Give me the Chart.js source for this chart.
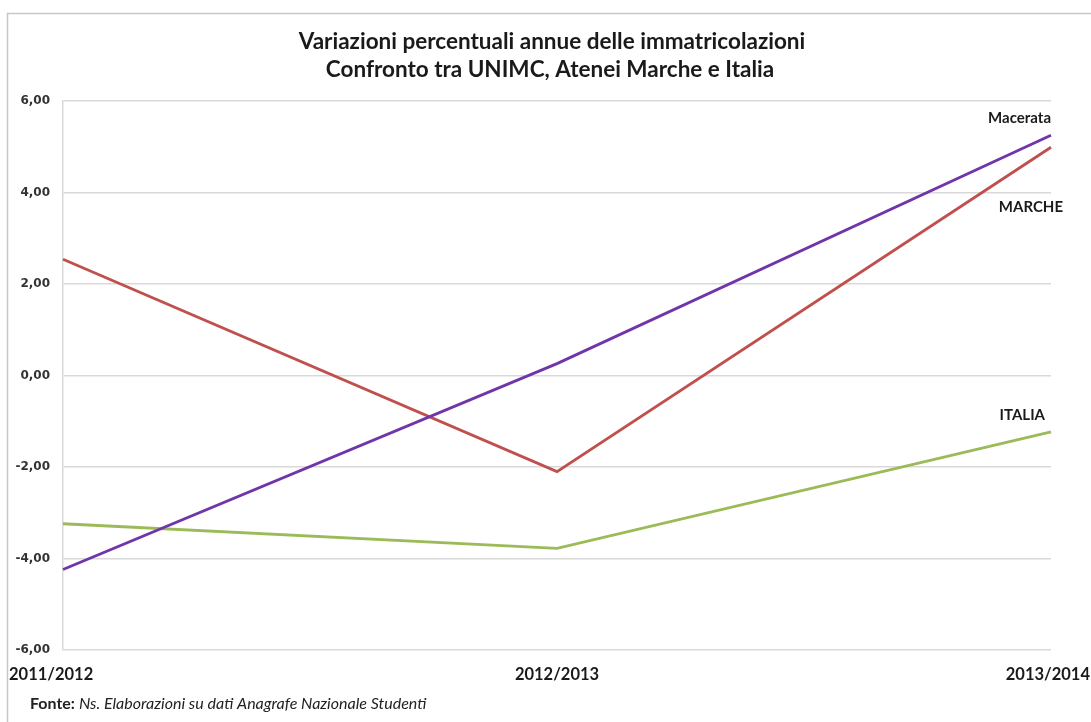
<!DOCTYPE html>
<html>
<head>
<meta charset="utf-8">
<script src="https://cdn.jsdelivr.net/npm/chart.js@4.4.1/dist/chart.umd.min.js"></script>
<style>
  html, body { margin: 0; padding: 0; background: #fff; }
  #wrap { width: 1091px; height: 722px; position: relative; }
</style>
</head>
<body>
<div id="wrap"><canvas id="chart" width="1091" height="722"></canvas></div>
<script>
// Dati
const anni = ['2011/2012', '2012/2013', '2013/2014'];
const macerata = [-4.24, 0.26, 5.25];
const marche = [2.54, -2.10, 4.99];
const italia = [-3.24, -3.78, -1.23];
const titolo = ['Variazioni percentuali annue delle immatricolazioni', 'Confronto tra UNIMC, Atenei Marche e Italia'];

const FONT = 'Lato, "Open Sans", sans-serif';

// Testi disegnati a mano: titolo, etichette asse x, etichette serie, fonte
const testiPlugin = {
  id: 'testi',
  beforeDraw(chart) {
    const ctx = chart.ctx;
    ctx.save();
    ctx.strokeStyle = '#c8c8c8';
    ctx.lineWidth = 1.5;
    ctx.beginPath();
    ctx.moveTo(7.5, 730);
    ctx.lineTo(7.5, 13.5);
    ctx.lineTo(1100, 13.5);
    ctx.stroke();
    ctx.restore();
  },
  afterDraw(chart) {
    const ctx = chart.ctx;
    const x = chart.scales.x;
    const y = chart.scales.y;
    ctx.save();
    ctx.fillStyle = '#1a1a1a';
    ctx.textBaseline = 'middle';

    // titolo
    ctx.font = 'bold 22.5px ' + FONT;
    ctx.textAlign = 'center';
    ctx.fillText(titolo[0], 552, 42);
    ctx.fillText(titolo[1], 550, 70);

    // etichette asse x
    ctx.font = 'bold 16.5px ' + FONT;
    const yLab = chart.chartArea.bottom + 25;
    ctx.textAlign = 'left';
    ctx.fillText(anni[0], 9, yLab);
    ctx.textAlign = 'center';
    ctx.fillText(anni[1], x.getPixelForValue(1), yLab);
    ctx.textAlign = 'right';
    ctx.fillText(anni[2], 1090, yLab);

    // etichette serie
    ctx.font = 'bold 15px ' + FONT;
    const last = x.getPixelForValue(2);
    ctx.fillText('Macerata', last, y.getPixelForValue(macerata[2]) - 17);
    ctx.fillText('MARCHE', last + 12, y.getPixelForValue(marche[2]) + 60);
    ctx.fillText('ITALIA', last - 6, y.getPixelForValue(italia[2]) - 17);

    // fonte
    ctx.textAlign = 'left';
    ctx.font = 'bold 16px ' + FONT;
    ctx.fillStyle = '#222';
    ctx.fillText('Fonte:', 30, 704);
    const w = ctx.measureText('Fonte: ').width;
    ctx.font = 'italic 16px ' + FONT;
    ctx.fillText('Ns. Elaborazioni su dati Anagrafe Nazionale Studenti', 30 + w, 704);
    ctx.restore();
  }
};

const ctx = document.getElementById('chart').getContext('2d');
new Chart(ctx, {
  type: 'line',
  data: {
    labels: anni,
    datasets: [
      { label: 'Macerata', data: macerata, borderColor: '#7035a8', borderWidth: 2.8, pointRadius: 0, tension: 0 },
      { label: 'MARCHE', data: marche, borderColor: '#c0504d', borderWidth: 2.8, pointRadius: 0, tension: 0 },
      { label: 'ITALIA', data: italia, borderColor: '#9bbb59', borderWidth: 2.8, pointRadius: 0, tension: 0 }
    ]
  },
  options: {
    responsive: false,
    animation: false,
    layout: { padding: { top: 101, right: 40, bottom: 72, left: 0 } },
    plugins: {
      legend: { display: false },
      title: { display: false },
      tooltip: { enabled: false }
    },
    scales: {
      x: {
        display: false
      },
      y: {
        min: -6,
        max: 6,
        afterFit(scale) { scale.width = 63; },
        ticks: {
          stepSize: 2,
          padding: 13,
          color: '#333',
          font: { family: '"DejaVu Sans", sans-serif', size: 12, weight: 'bold' },
          callback: v => v.toFixed(2).replace('.', ',')
        },
        grid: { color: '#d9d9d9', lineWidth: 1.5, drawTicks: false },
        border: { display: true, color: '#d9d9d9', width: 1.5 }
      }
    }
  },
  plugins: [testiPlugin]
});
</script>
</body>
</html>
